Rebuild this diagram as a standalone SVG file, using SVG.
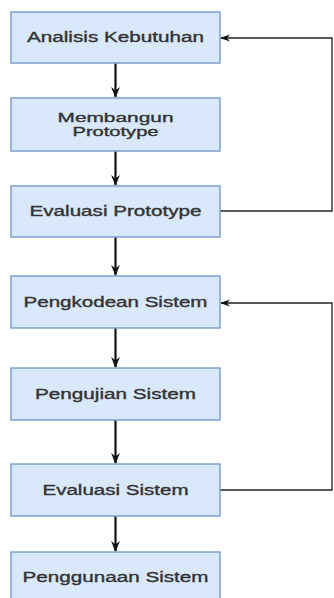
<svg xmlns="http://www.w3.org/2000/svg" width="334" height="598" viewBox="0 0 334 598">
<style>
.box{fill:#dae8fc;stroke:#7e9fd0;stroke-width:1.5}
.t{font-family:"Liberation Sans",Arial,sans-serif;font-size:14px;fill:#333;stroke:#333;stroke-width:0.35;text-anchor:middle}
.s{font-size:13px}
.c{fill:none;stroke:#111;stroke-width:2.2}
.f{fill:none;stroke:#222;stroke-width:1.3}
</style>
<defs>
<marker id="b" viewBox="0 0 10 10" refX="9" refY="5" markerWidth="11" markerHeight="11" orient="auto" markerUnits="userSpaceOnUse">
<path d="M0,1 L10,5 L0,9 L3,5 Z" fill="#111"/>
</marker>
<marker id="g" viewBox="0 0 10 10" refX="9" refY="5" markerWidth="10" markerHeight="10" orient="auto" markerUnits="userSpaceOnUse">
<path d="M0,1.5 L10,5 L0,8.5 L3,5 Z" fill="#111"/>
</marker>
</defs>
<rect width="334" height="598" fill="#fff"/>
<g id="connectors">
<path class="c" d="M115.5,63 V97" marker-end="url(#b)"/>
<path class="c" d="M115.5,151 V185" marker-end="url(#b)"/>
<path class="c" d="M115.5,237 V275" marker-end="url(#b)"/>
<path class="c" d="M115.5,328 V367" marker-end="url(#b)"/>
<path class="c" d="M115.5,420 V463" marker-end="url(#b)"/>
<path class="c" d="M115.5,516 V551" marker-end="url(#b)"/>
<path class="f" d="M220,211 H332 V38 H221" marker-end="url(#g)"/>
<path class="f" d="M220,490 H332 V303 H221" marker-end="url(#g)"/>
</g>
<g id="n1"><rect class="box" x="11" y="12" width="209" height="51"/><text class="t" x="115.5" y="42" textLength="177" lengthAdjust="spacingAndGlyphs">Analisis Kebutuhan</text></g>
<g id="n2"><rect class="box" x="11" y="98" width="209" height="53"/><text class="t s" x="115.5" y="122" textLength="116" lengthAdjust="spacingAndGlyphs">Membangun</text><text class="t s" x="115.5" y="136" textLength="86" lengthAdjust="spacingAndGlyphs">Prototype</text></g>
<g id="n3"><rect class="box" x="11" y="186" width="209" height="51"/><text class="t" x="115.5" y="215.5" textLength="172" lengthAdjust="spacingAndGlyphs">Evaluasi Prototype</text></g>
<g id="n4"><rect class="box" x="11" y="276" width="209" height="52"/><text class="t" x="115.5" y="306.5" textLength="184" lengthAdjust="spacingAndGlyphs">Pengkodean Sistem</text></g>
<g id="n5"><rect class="box" x="11" y="368" width="209" height="52"/><text class="t" x="115.5" y="398.5" textLength="161" lengthAdjust="spacingAndGlyphs">Pengujian Sistem</text></g>
<g id="n6"><rect class="box" x="11" y="464" width="209" height="52"/><text class="t" x="115.5" y="494.5" textLength="146" lengthAdjust="spacingAndGlyphs">Evaluasi Sistem</text></g>
<g id="n7"><rect class="box" x="11" y="552" width="209" height="52"/><text class="t" x="115.5" y="582" textLength="186" lengthAdjust="spacingAndGlyphs">Penggunaan Sistem</text></g>
</svg>
